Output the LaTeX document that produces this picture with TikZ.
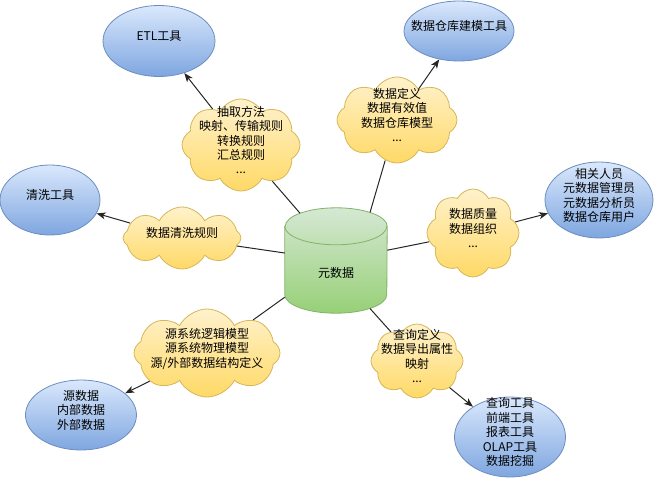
\documentclass[tikz,border=0pt]{standalone}
\usepackage{fontspec}
\setmainfont{Noto Sans CJK SC}
\usetikzlibrary{shapes.geometric, shapes.symbols, arrows.meta, backgrounds}
\definecolor{tooltop}{HTML}{DAE8FC}
\definecolor{toolbot}{HTML}{7EA6E0}
\definecolor{toolline}{HTML}{6C8EBF}
\definecolor{notetop}{HTML}{FFF2CC}
\definecolor{notebot}{HTML}{FFD966}
\definecolor{noteline}{HTML}{D6B656}
\definecolor{metatop}{HTML}{D5E8D4}
\definecolor{metabot}{HTML}{97D077}
\definecolor{metaline}{HTML}{82B366}
% text that does not push the shape outwards
\newcommand{\puff}[1]{\makebox[0pt]{\smash{\begin{tabular}{@{}c@{}}#1\end{tabular}}}}
\tikzset{
  tool/.style={ellipse, draw=toolline, line width=0.8pt, top color=tooltop, bottom color=toolbot, inner sep=0pt, font=\fontsize{12}{14.5}\selectfont},
  note/.style={cloud, cloud puffs=8, cloud puff arc=125, cloud ignores aspect, draw=noteline, line width=0.8pt, top color=notetop, bottom color=notebot, inner sep=0pt, font=\fontsize{12}{14}\selectfont},
  store/.style={rectangle, inner sep=0pt, minimum width=102pt, minimum height=105pt, font=\fontsize{12}{14}\selectfont},
  drum/.style={draw=metaline, line width=0.8pt, top color=metatop, bottom color=metabot},
  lid/.style={x radius=51pt, y radius=18.5pt},
  link/.style={line width=1pt, black!85},
  arr/.style={link, -{Stealth[length=9pt, width=7pt, inset=2.5pt]}},
}
\begin{document}
\begin{tikzpicture}[x=1pt, y=-1pt]
\useasboundingbox (0,0) rectangle (656,478);
% centre
\node[store] (meta) at (336,260.5) {\raisebox{-17pt}[0pt][0pt]{元数据}};
\begin{scope}[on background layer]
\path[drum] ([yshift=-18.5pt]meta.north west) -- ([yshift=18.5pt]meta.south west)
  arc[start angle=180, end angle=360, lid] -- ([yshift=-18.5pt]meta.north east)
  arc[start angle=0, end angle=180, lid] -- cycle;
\draw[metaline, line width=0.8pt] ([yshift=-18.5pt]meta.north west) arc[start angle=180, end angle=360, lid];
\end{scope}
% clouds
\node[note, minimum width=118pt, minimum height=92pt] (extract) at (241,145) {\puff{抽取方法\\映射、传输规则\\转换规则\\汇总规则\\...}};
\node[note, minimum width=120pt, minimum height=86pt] (model) at (397,120) {\puff{数据定义\\数据有效值\\数据仓库模型\\...}};
\node[note, minimum width=118pt, minimum height=62pt] (clean) at (182,238) {\puff{数据清洗规则}};
\node[note, minimum width=92pt, minimum height=88pt] (quality) at (473,233) {\puff{数据质量\\数据组织\\...}};
\node[note, minimum width=146pt, minimum height=88pt] (source) at (207,353) {\puff{源系统逻辑模型\\源系统物理模型\\源/外部数据结构定义}};
\node[note, minimum width=92pt, minimum height=74pt] (query) at (417,361) {\puff{查询定义\\数据导出属性\\映射\\...}};
% tools
\node[tool, minimum width=112pt, minimum height=71pt] (etl) at (159,41) {\puff{ETL工具}};
\node[tool, minimum width=110pt, minimum height=60pt] (dwtool) at (459,31) {\puff{数据仓库建模工具}};
\node[tool, minimum width=100pt, minimum height=70pt] (cleantool) at (50,200) {\puff{清洗工具}};
\node[tool, minimum width=108pt, minimum height=76pt] (people) at (599,200) {\puff{相关人员\\元数据管理员\\元数据分析员\\数据仓库用户}};
\node[tool, minimum width=111pt, minimum height=70pt] (srcdata) at (81,415) {\puff{源数据\\内部数据\\外部数据}};
\node[tool, minimum width=111pt, minimum height=80pt] (front) at (510,437) {\puff{查询工具\\前端工具\\报表工具\\OLAP工具\\数据挖掘}};
% links
\draw[link] ([xshift=-36pt, yshift=-5.4pt]meta.north) -- (extract);
\draw[link] ([xshift=34pt, yshift=-4.7pt]meta.north) -- (model);
\draw[link] ([xshift=34pt, yshift=4.7pt]meta.south) -- (query);
\foreach \c in {clean, quality, source}
  \draw[link] (meta) -- (\c);
\draw[arr] (extract) -- (etl);
\draw[arr] (model) -- (dwtool);
\draw[arr] (clean) -- (cleantool);
\draw[arr] (quality) -- (people);
\draw[arr] (source) -- (srcdata);
\draw[arr] (query) -- (front);
\end{tikzpicture}
\end{document}
